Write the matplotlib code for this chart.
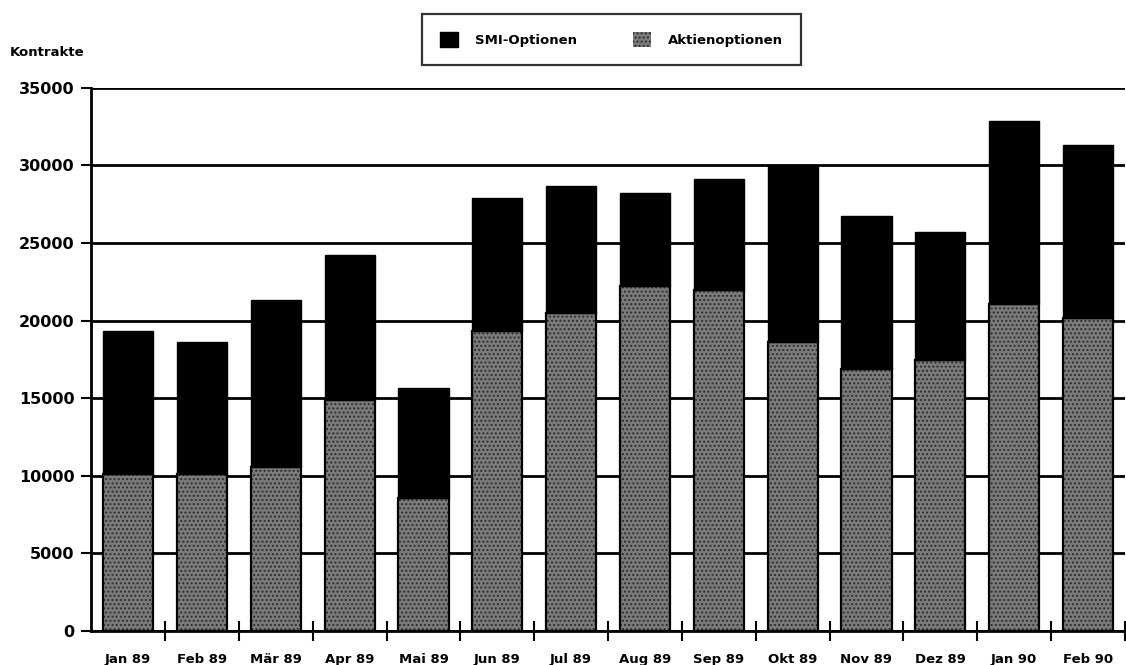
import matplotlib
matplotlib.use("Agg")
import matplotlib.pyplot as plt
from matplotlib.patches import Patch
import numpy as np

# Monatliche Kontrakte an der SOFFEX, Jan 89 - Feb 90
months = ["Jan 89", "Feb 89", "Mär 89", "Apr 89", "Mai 89", "Jun 89", "Jul 89",
          "Aug 89", "Sep 89", "Okt 89", "Nov 89", "Dez 89", "Jan 90", "Feb 90"]
aktienoptionen = [10100, 10100, 10600, 14900, 8600, 19350, 20500,
                  22250, 21950, 18600, 16900, 17450, 21100, 20200]
smi_optionen = [9250, 8500, 10750, 9300, 7050, 8550, 8200,
                6000, 7200, 11400, 9850, 8250, 11750, 11100]
y_ticks = [0, 5000, 10000, 15000, 20000, 25000, 30000, 35000]

plt.rcParams["font.family"] = ["DejaVu Sans"]
plt.rcParams["font.weight"] = "bold"
plt.rcParams["hatch.linewidth"] = 0.9

fig = plt.figure(figsize=(11.26, 6.65), dpi=100)
ax = fig.add_axes([0.081, 0.051, 0.918, 0.817])

x = np.arange(len(months))
w = 0.68
gray = "#7a7a7a"
dots = "#2a2a2a"

# Aktienoptionen: gepunktetes Grau mit schwarzem Rand
ax.bar(x, aktienoptionen, w, color=gray, edgecolor=dots, hatch="....",
       linewidth=0, zorder=3)
ax.bar(x, aktienoptionen, w, fill=False, edgecolor="black", linewidth=1.6, zorder=4)
# SMI-Optionen: schwarz darüber gestapelt
ax.bar(x, smi_optionen, w, bottom=aktienoptionen, color="black",
       edgecolor="black", linewidth=1.0, zorder=3)

ax.set_xlim(-0.5, len(months) - 0.5)
ax.set_ylim(0, 35000)
ax.set_yticks(y_ticks)
ax.set_yticklabels([str(v) for v in y_ticks], fontsize=11.5, fontweight="bold")
ax.yaxis.grid(True, color="black", linewidth=2.0, zorder=1)
ax.set_axisbelow(True)

ax.set_xticks(x)
ax.set_xticklabels(months, fontsize=9.5, fontweight="bold")
ax.tick_params(axis="x", which="major", length=0, pad=16)
ax.set_xticks(np.arange(len(months)) + 0.5, minor=True)
ax.tick_params(axis="x", which="minor", direction="inout", length=14, width=1.5)
ax.tick_params(axis="y", direction="out", length=7, width=1.5, pad=5)

for s in ("top", "right"):
    ax.spines[s].set_visible(False)
ax.spines["left"].set_linewidth(2.0)
ax.spines["bottom"].set_linewidth(2.0)

fig.text(0.009, 0.921, "Kontrakte", fontsize=9.5, fontweight="bold",
         ha="left", va="center")

handles = [Patch(facecolor="black", edgecolor="black", label="SMI-Optionen"),
           Patch(facecolor=gray, edgecolor=dots, hatch="....", linewidth=0,
                 label="Aktienoptionen")]
leg = fig.legend(handles=handles, loc="center", bbox_to_anchor=(0.543, 0.941),
                 ncol=2, frameon=True, fancybox=False, fontsize=9.5,
                 handlelength=1.4, handleheight=1.4, columnspacing=4.2,
                 borderpad=1.35, handletextpad=1.3)
leg.get_frame().set_edgecolor("black")
leg.get_frame().set_linewidth(1.6)
for t in leg.get_texts():
    t.set_fontweight("bold")

fig.savefig("out.png", dpi=100)
